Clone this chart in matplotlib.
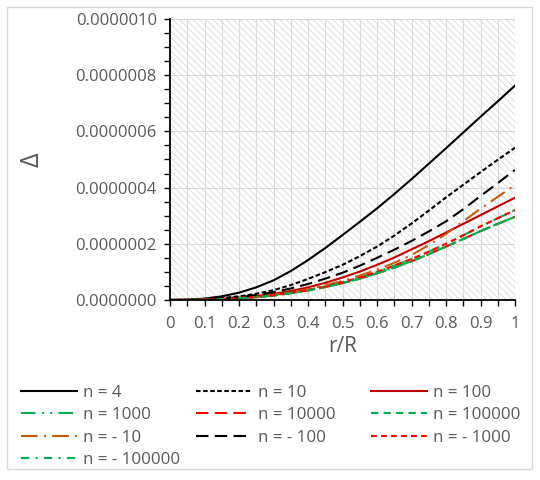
import matplotlib
matplotlib.use("Agg")
import matplotlib.pyplot as plt
from matplotlib.patches import Rectangle
from matplotlib.ticker import MultipleLocator, FormatStrFormatter

plt.rcParams["font.family"] = ["Open Sans", "DejaVu Sans"]
plt.rcParams["hatch.linewidth"] = 0.6
plt.rcParams["hatch.color"] = "#DCDCDC"

# r/R positions (every 0.05)
r_R = [0.0, 0.05, 0.1, 0.15, 0.2, 0.25, 0.3, 0.35, 0.4, 0.45, 0.5,
       0.55, 0.6, 0.65, 0.7, 0.75, 0.8, 0.85, 0.9, 0.95, 1.0]

# Delta values, in units of 1e-6
n_4 = [0, 0.001, 0.005, 0.013, 0.026, 0.045, 0.070, 0.103, 0.142, 0.185, 0.231,
       0.278, 0.326, 0.377, 0.430, 0.485, 0.540, 0.596, 0.652, 0.707, 0.763]
n_10 = [0, 0.001, 0.003, 0.007, 0.013, 0.022, 0.035, 0.053, 0.075, 0.099, 0.125,
        0.156, 0.190, 0.229, 0.272, 0.318, 0.365, 0.410, 0.455, 0.499, 0.542]
n_100 = [0, 0.0005, 0.002, 0.004, 0.008, 0.014, 0.022, 0.032, 0.045, 0.061, 0.080,
         0.101, 0.125, 0.151, 0.180, 0.209, 0.240, 0.271, 0.302, 0.333, 0.364]
n_1000 = [0, 0.0003, 0.001, 0.003, 0.006, 0.011, 0.017, 0.026, 0.036, 0.048, 0.063,
          0.080, 0.100, 0.122, 0.146, 0.172, 0.200, 0.230, 0.262, 0.291, 0.320]
n_10000 = [0, 0.0003, 0.001, 0.003, 0.006, 0.010, 0.016, 0.024, 0.034, 0.046, 0.060,
           0.076, 0.095, 0.115, 0.138, 0.163, 0.190, 0.217, 0.245, 0.271, 0.296]
n_100000 = [0, 0.0003, 0.001, 0.003, 0.006, 0.010, 0.016, 0.024, 0.034, 0.046, 0.060,
            0.076, 0.095, 0.115, 0.138, 0.163, 0.190, 0.217, 0.245, 0.271, 0.296]
n_m10 = [0, 0.0003, 0.001, 0.003, 0.006, 0.011, 0.018, 0.027, 0.038, 0.052, 0.068,
         0.087, 0.108, 0.132, 0.160, 0.195, 0.235, 0.280, 0.325, 0.367, 0.409]
n_m100 = [0, 0.0005, 0.002, 0.005, 0.010, 0.018, 0.028, 0.041, 0.057, 0.076, 0.097,
          0.122, 0.150, 0.179, 0.210, 0.244, 0.280, 0.323, 0.370, 0.416, 0.463]
n_m1000 = [0, 0.0003, 0.001, 0.003, 0.006, 0.011, 0.017, 0.026, 0.036, 0.048, 0.063,
           0.080, 0.100, 0.122, 0.146, 0.172, 0.200, 0.230, 0.262, 0.291, 0.320]
n_m100000 = [0, 0.0003, 0.001, 0.003, 0.006, 0.010, 0.016, 0.024, 0.034, 0.046, 0.060,
             0.076, 0.095, 0.115, 0.138, 0.163, 0.190, 0.217, 0.245, 0.271, 0.296]

labels = ["n = 4", "n = 10", "n = 100", "n = 1000", "n = 10000",
          "n = 100000", "n = - 10", "n = - 100", "n = - 1000", "n = - 100000"]
series = [n_4, n_10, n_100, n_1000, n_10000, n_100000,
          n_m10, n_m100, n_m1000, n_m100000]
colors = ["black", "black", "#C00000", "#00B050", "#FF0000", "#00B050",
          "#C55A11", "black", "#FF0000", "#00B050"]
dashes = [None, (2.2, 1.2), None, (7, 3, 1, 3, 1, 3), (6, 3), (3.5, 2.5),
          (8, 3, 1, 3), (6, 3), (2.8, 2), (4, 3, 1, 3)]

fig = plt.figure(figsize=(5.4, 4.8), dpi=100)
fig.patches.append(Rectangle((7 / 540, 11 / 480), 525 / 540, 462 / 480,
                             transform=fig.transFigure, fill=False,
                             edgecolor="#D9D9D9", linewidth=1))
ax = fig.add_axes([170 / 540, 1 - 300 / 480, 345 / 540, 281 / 480])

# hatched plot-area background
ax.add_patch(Rectangle((0, 0), 1, 1, transform=ax.transAxes, facecolor="white",
                       hatch="\\\\\\\\\\", linewidth=0, zorder=0))

handles = []
for vals, lab, col, ds in zip(series, labels, colors, dashes):
    y = [v * 1e-6 for v in vals]
    line, = ax.plot(r_R, y, color=col, linewidth=1.5, label=lab, zorder=3)
    if ds is not None:
        line.set_dashes(ds)
    handles.append(line)

ax.set_xlim(0, 1)
ax.set_ylim(0, 1e-6)
ax.xaxis.set_minor_locator(MultipleLocator(0.05))
ax.yaxis.set_major_locator(MultipleLocator(2e-7))
ax.yaxis.set_minor_locator(MultipleLocator(0.5e-7))
ax.yaxis.set_major_formatter(FormatStrFormatter("%.7f"))
ax.set_xticks([0, 0.1, 0.2, 0.3, 0.4, 0.5, 0.6, 0.7, 0.8, 0.9, 1])
ax.set_xticklabels(["0", "0.1", "0.2", "0.3", "0.4", "0.5", "0.6", "0.7",
                    "0.8", "0.9", "1"])

ax.grid(True, which="major", color="#D9D9D9", linewidth=0.8, zorder=1)
ax.grid(True, which="minor", axis="x", color="#D9D9D9", linewidth=0.8, zorder=1)
ax.set_axisbelow(True)

for s in ["top", "right"]:
    ax.spines[s].set_visible(False)
for s in ["left", "bottom"]:
    ax.spines[s].set_linewidth(1.3)
    ax.spines[s].set_zorder(4)

ax.tick_params(which="both", direction="out", length=4.5, width=1,
               colors="black", labelcolor="#595959", labelsize=12)
ax.tick_params(axis="y", which="both", pad=5)
ax.tick_params(axis="x", which="both", pad=7)

ax.set_xlabel("r/R", fontsize=15, color="#595959", labelpad=3)
ax.set_ylabel("Δ", fontsize=18, color="#595959", labelpad=22)

# legend in three columns, row-major like the original
cols_idx = [[0, 3, 6, 9], [1, 4, 7], [2, 5, 8]]
col_x = [14 / 540, 189 / 540, 364 / 540]
for cx, idx in zip(col_x, cols_idx):
    fig.legend([handles[i] for i in idx], [labels[i] for i in idx],
               loc="upper left", bbox_to_anchor=(cx, 1 - 378 / 480),
               frameon=False, fontsize=12.2, handlelength=3.3,
               handletextpad=0.4, labelspacing=0.38, borderaxespad=0,
               labelcolor="#595959")

fig.savefig("out.png", dpi=100)
